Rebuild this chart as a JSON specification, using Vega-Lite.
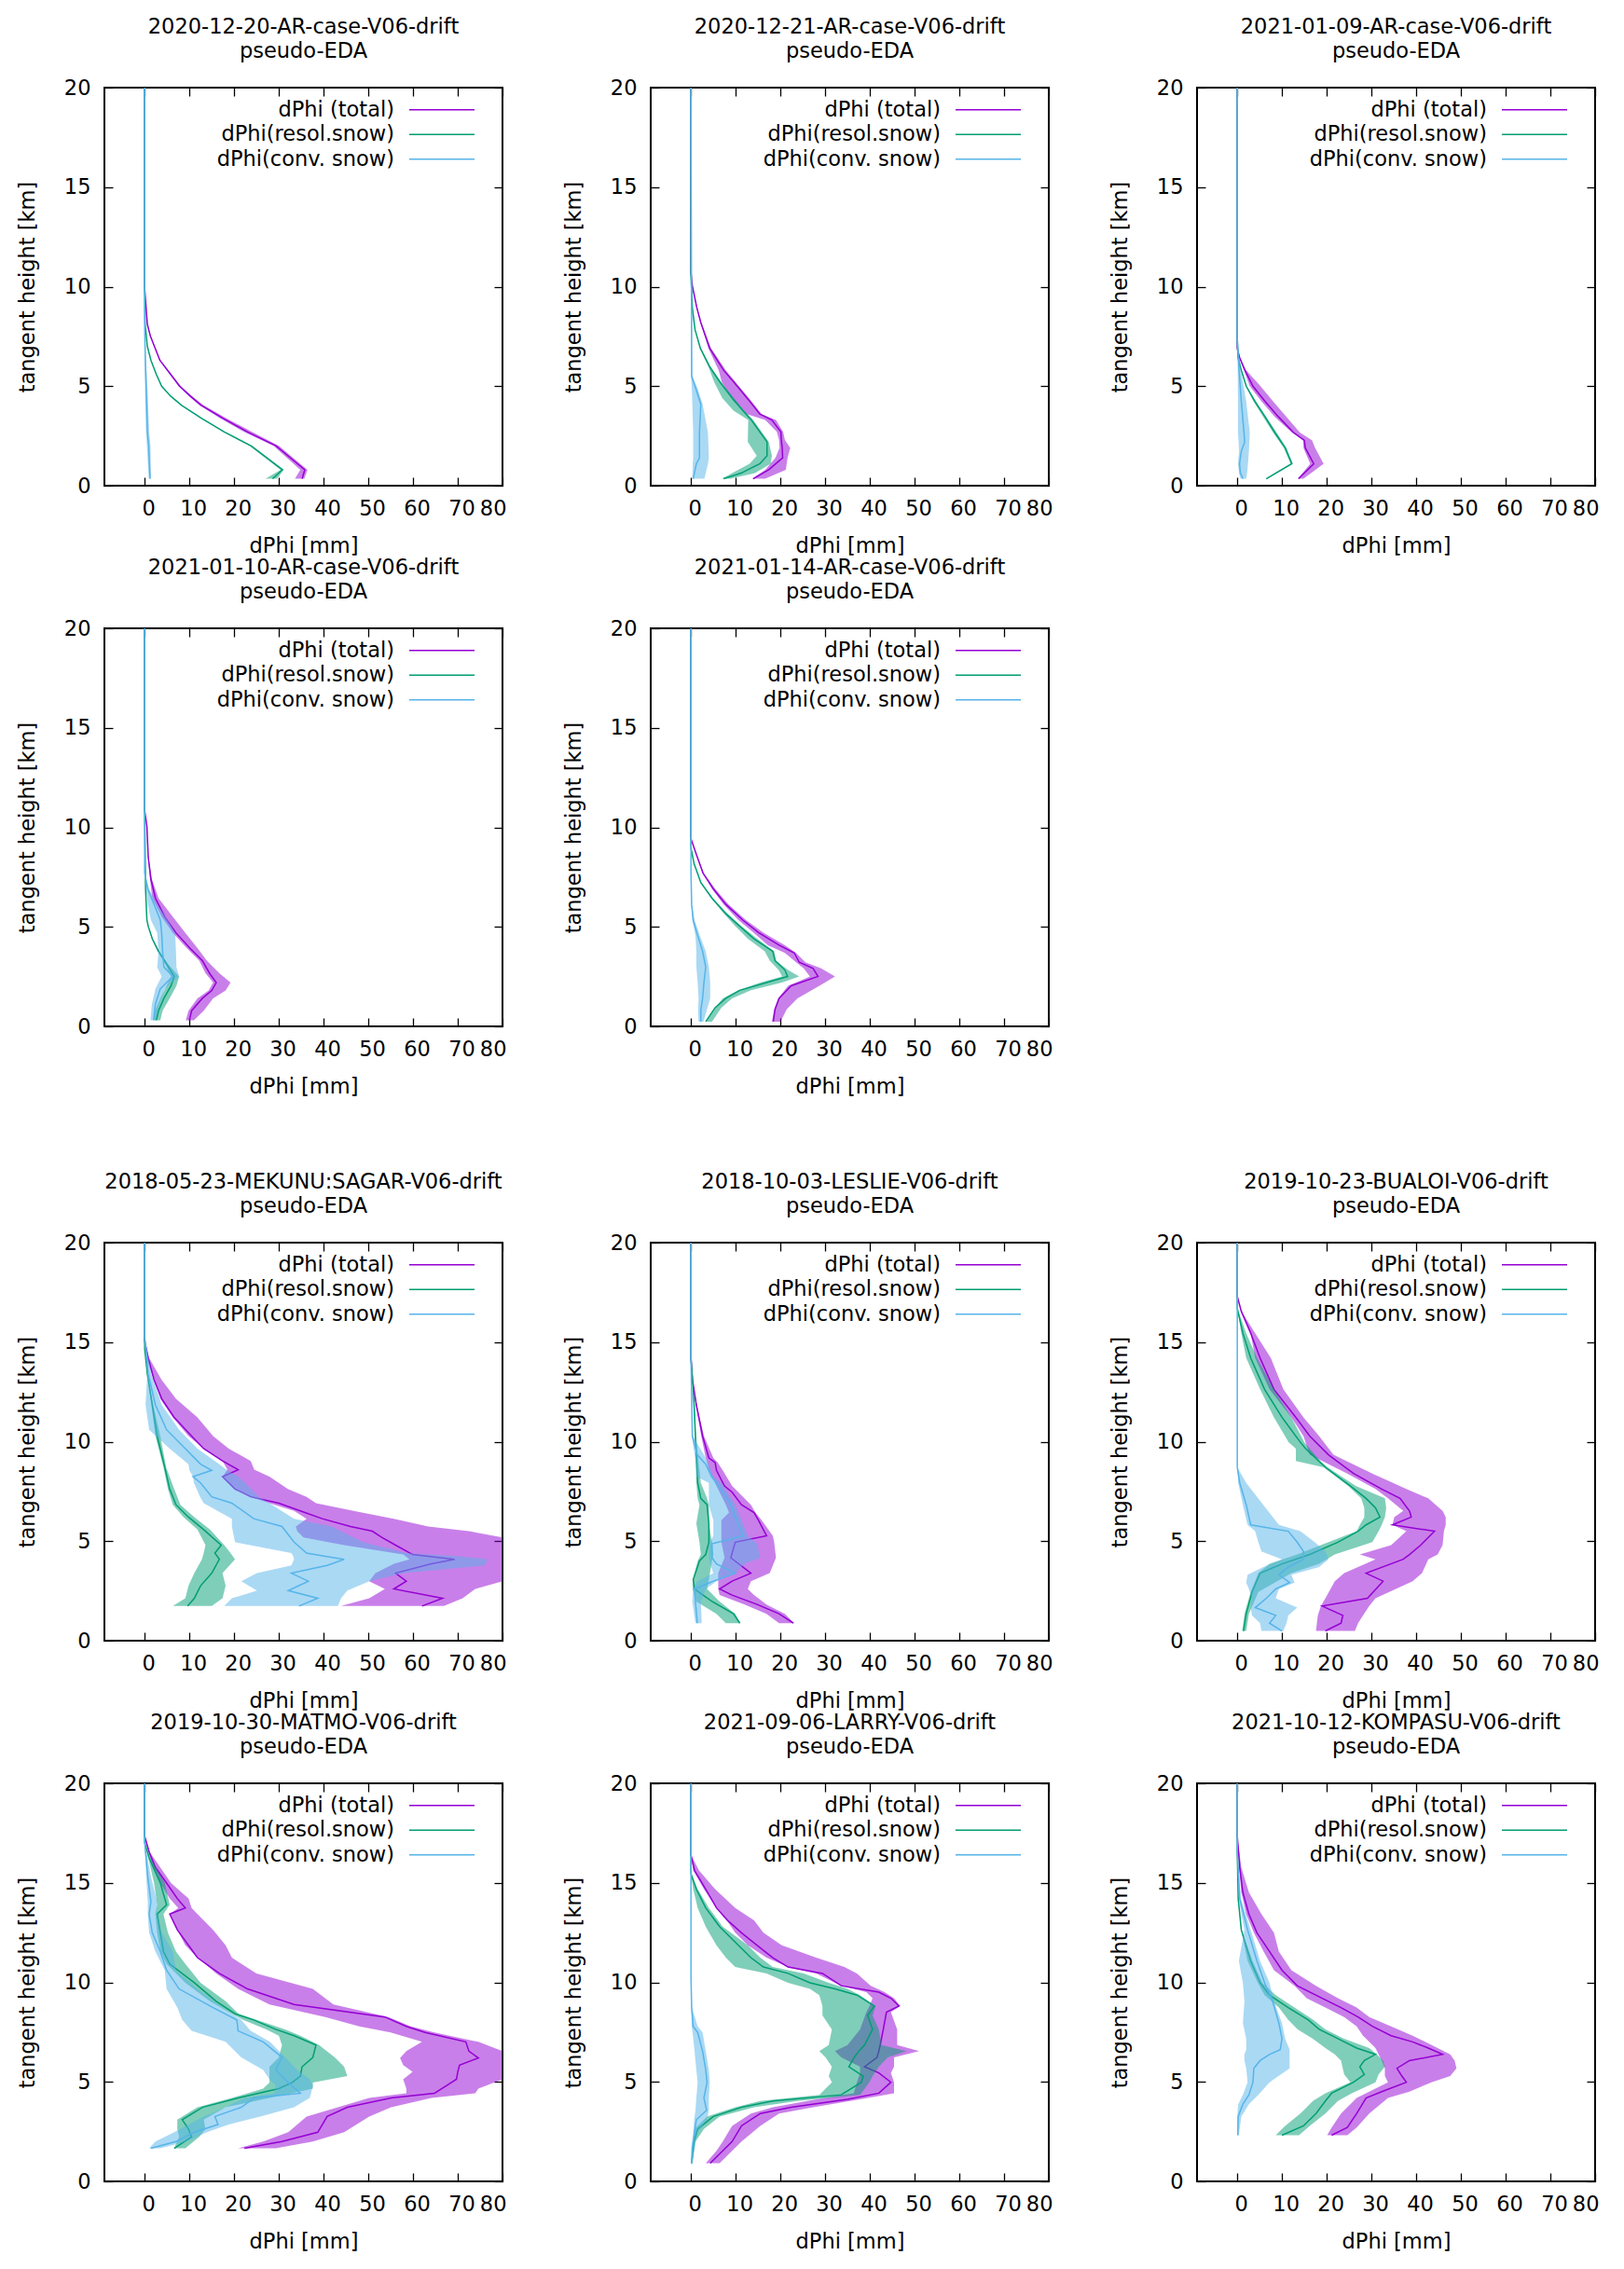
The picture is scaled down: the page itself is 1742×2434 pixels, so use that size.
{
  "$schema": "https://vega.github.io/schema/vega-lite/v6.json",
  "background": "white",
  "padding": {"left": 17, "top": 16, "right": 5, "bottom": 5},
  "datasets": {
    "total": [
      {"p":1,"h":0.35,"m":35.2,"lo":33.6,"hi":35.7},{"p":1,"h":0.8,"m":35.8,"lo":34.8,"hi":36.4},{"p":1,"h":2.0,"m":29.4,"lo":28.8,"hi":30.0},{"p":1,"h":2.7,"m":23,"lo":22.2,"hi":24},{"p":1,"h":3.4,"m":17.4,"lo":16.8,"hi":18.2},{"p":1,"h":4.05,"m":12.6,"lo":12.2,"hi":13.1},{"p":1,"h":4.5,"m":10.2,"lo":9.9,"hi":10.6},{"p":1,"h":5.0,"m":7.8,"lo":7.6,"hi":8.1},{"p":1,"h":5.6,"m":5.8,"lo":5.6,"hi":6.0},{"p":1,"h":6.3,"m":3.4,"lo":3.3,"hi":3.5},{"p":1,"h":7.5,"m":1.3,"lo":1.25,"hi":1.35},{"p":1,"h":8.1,"m":0.6,"lo":0.55,"hi":0.65},{"p":1,"h":9.9,"m":0,"lo":0,"hi":0},{"p":1,"h":20,"m":0,"lo":0,"hi":0},
      {"p":2,"h":0.35,"m":13.9,"lo":13.7,"hi":16.6},{"p":2,"h":0.8,"m":17.4,"lo":16.6,"hi":21.2},{"p":2,"h":1.4,"m":20.5,"lo":18.9,"hi":21.6},{"p":2,"h":1.9,"m":20.4,"lo":19.8,"hi":22.2},{"p":2,"h":2.3,"m":20.2,"lo":19.7,"hi":21},{"p":2,"h":2.7,"m":20.1,"lo":19.2,"hi":20.6},{"p":2,"h":3.3,"m":18.1,"lo":16.6,"hi":19},{"p":2,"h":3.6,"m":15.4,"lo":12.5,"hi":15.8},{"p":2,"h":4.25,"m":13.1,"lo":9.5,"hi":13.5},{"p":2,"h":5.2,"m":9.6,"lo":6.9,"hi":10.0},{"p":2,"h":5.8,"m":7.3,"lo":6.2,"hi":7.8},{"p":2,"h":6.9,"m":4.2,"lo":3.9,"hi":4.5},{"p":2,"h":8.2,"m":2.2,"lo":2.1,"hi":2.3},{"p":2,"h":8.95,"m":1.3,"lo":1.25,"hi":1.35},{"p":2,"h":10.05,"m":0.3,"lo":0.3,"hi":0.3},{"p":2,"h":10.7,"m":0,"lo":0,"hi":0},{"p":2,"h":20,"m":0,"lo":0,"hi":0},
      {"p":3,"h":0.35,"m":13.7,"lo":13.5,"hi":14.8},{"p":3,"h":1.1,"m":17.1,"lo":16.3,"hi":19.3},{"p":3,"h":1.9,"m":15.2,"lo":14.8,"hi":17.4},{"p":3,"h":2.28,"m":15.0,"lo":14.7,"hi":16.7},{"p":3,"h":2.67,"m":12.6,"lo":12.2,"hi":14.0},{"p":3,"h":3.46,"m":9.2,"lo":8.4,"hi":11},{"p":3,"h":4.24,"m":6.2,"lo":5.4,"hi":8.0},{"p":3,"h":5.0,"m":3.5,"lo":2.8,"hi":5.2},{"p":3,"h":5.8,"m":1.7,"lo":1.5,"hi":2.0},{"p":3,"h":6.45,"m":0.5,"lo":0.45,"hi":0.55},{"p":3,"h":6.9,"m":0,"lo":0,"hi":0},{"p":3,"h":20,"m":0,"lo":0,"hi":0},
      {"p":4,"h":0.31,"m":10.0,"lo":9.2,"hi":11},{"p":4,"h":0.79,"m":10.5,"lo":9.8,"hi":13.2},{"p":4,"h":1.41,"m":12.9,"lo":11.8,"hi":15.3},{"p":4,"h":1.8,"m":15.0,"lo":14.3,"hi":18.1},{"p":4,"h":2.2,"m":16.0,"lo":15.3,"hi":19.2},{"p":4,"h":2.67,"m":14.5,"lo":13.6,"hi":16.7},{"p":4,"h":3.3,"m":12.9,"lo":12.2,"hi":13.9},{"p":4,"h":3.93,"m":10.1,"lo":9.4,"hi":11.8},{"p":4,"h":4.7,"m":7.0,"lo":6.3,"hi":9.1},{"p":4,"h":5.5,"m":4.5,"lo":3.8,"hi":6.3},{"p":4,"h":6.44,"m":2.4,"lo":1.7,"hi":3.1},{"p":4,"h":7.4,"m":1.4,"lo":1.2,"hi":1.6},{"p":4,"h":8.5,"m":0.8,"lo":0.75,"hi":0.85},{"p":4,"h":10.05,"m":0.5,"lo":0.5,"hi":0.5},{"p":4,"h":10.84,"m":0,"lo":0,"hi":0},{"p":4,"h":20,"m":0,"lo":0,"hi":0},
      {"p":5,"h":0.24,"m":18.4,"lo":18.1,"hi":20},{"p":5,"h":0.86,"m":18.8,"lo":18.6,"hi":21.4},{"p":5,"h":1.41,"m":19.7,"lo":19.5,"hi":23.8},{"p":5,"h":2.04,"m":22.4,"lo":21.7,"hi":28.7},{"p":5,"h":2.51,"m":28.4,"lo":26.6,"hi":32.2},{"p":5,"h":2.91,"m":27.3,"lo":25.2,"hi":29.1},{"p":5,"h":3.22,"m":24.2,"lo":23.5,"hi":25.6},{"p":5,"h":3.69,"m":23.1,"lo":21,"hi":23.5},{"p":5,"h":4.08,"m":19.7,"lo":17.2,"hi":21},{"p":5,"h":4.71,"m":15.1,"lo":14,"hi":16.2},{"p":5,"h":5.34,"m":11.6,"lo":10.6,"hi":12.3},{"p":5,"h":6.13,"m":7.8,"lo":7.3,"hi":8.4},{"p":5,"h":6.91,"m":5.0,"lo":4.7,"hi":5.4},{"p":5,"h":7.7,"m":2.7,"lo":2.6,"hi":2.8},{"p":5,"h":8.64,"m":1.2,"lo":1.2,"hi":1.2},{"p":5,"h":9.43,"m":0,"lo":0,"hi":0},{"p":5,"h":20,"m":0,"lo":0,"hi":0},
      {"p":6,"h":1.74,"m":62,"lo":43.9,"hi":66.9},{"p":6,"h":2.13,"m":66.6,"lo":50.2,"hi":71.1},{"p":6,"h":2.6,"m":55.7,"lo":53.7,"hi":73.9},{"p":6,"h":2.99,"m":58.5,"lo":50.2,"hi":80},{"p":6,"h":3.39,"m":56.1,"lo":51.6,"hi":80},{"p":6,"h":3.86,"m":64.1,"lo":55.7,"hi":80},{"p":6,"h":4.09,"m":69.3,"lo":59.2,"hi":80},{"p":6,"h":4.33,"m":59.9,"lo":57.8,"hi":80},{"p":6,"h":4.8,"m":56.1,"lo":44.6,"hi":80},{"p":6,"h":5.19,"m":53,"lo":35.5,"hi":80},{"p":6,"h":5.5,"m":50.9,"lo":34.1,"hi":72.5},{"p":6,"h":5.74,"m":46,"lo":33.8,"hi":63.4},{"p":6,"h":6.13,"m":39.7,"lo":36.2,"hi":55.7},{"p":6,"h":6.52,"m":34.8,"lo":33.4,"hi":46.7},{"p":6,"h":6.91,"m":30,"lo":27.9,"hi":38.3},{"p":6,"h":7.23,"m":23.7,"lo":23.7,"hi":36.2},{"p":6,"h":7.62,"m":20.2,"lo":20.2,"hi":32},{"p":6,"h":8.24,"m":17.4,"lo":17.4,"hi":27.9},{"p":6,"h":8.59,"m":20.9,"lo":18.5,"hi":24.5},{"p":6,"h":9.03,"m":17.4,"lo":17.4,"hi":23.7},{"p":6,"h":9.65,"m":13.2,"lo":13.2,"hi":18.8},{"p":6,"h":10.28,"m":10.5,"lo":9.8,"hi":15.3},{"p":6,"h":11.22,"m":6.6,"lo":6.3,"hi":11.8},{"p":6,"h":12.16,"m":3.8,"lo":3.5,"hi":7.0},{"p":6,"h":13.1,"m":2.1,"lo":2.1,"hi":3.8},{"p":6,"h":14.2,"m":0.8,"lo":0.35,"hi":1.0},{"p":6,"h":15.06,"m":0,"lo":0,"hi":0},{"p":6,"h":20,"m":0,"lo":0,"hi":0},
      {"p":7,"h":0.88,"m":22.9,"lo":19.7,"hi":23.1},{"p":7,"h":1.35,"m":19.7,"lo":16.9,"hi":21},{"p":7,"h":1.82,"m":14.8,"lo":12,"hi":16.9},{"p":7,"h":2.29,"m":9.2,"lo":6.4,"hi":14.1},{"p":7,"h":2.6,"m":6.4,"lo":6.1,"hi":12.7},{"p":7,"h":2.99,"m":9.2,"lo":6.1,"hi":13.4},{"p":7,"h":3.39,"m":13.4,"lo":6.1,"hi":17.6},{"p":7,"h":4.17,"m":8.9,"lo":7.5,"hi":19.0},{"p":7,"h":4.95,"m":9.9,"lo":6.8,"hi":18.6},{"p":7,"h":5.27,"m":16.9,"lo":6.8,"hi":18.3},{"p":7,"h":6.05,"m":15.1,"lo":6.8,"hi":15.8},{"p":7,"h":6.44,"m":14.1,"lo":8.5,"hi":14.4},{"p":7,"h":6.83,"m":11.3,"lo":7.8,"hi":13.4},{"p":7,"h":7.46,"m":9.2,"lo":6.4,"hi":10.6},{"p":7,"h":7.77,"m":7.5,"lo":5.7,"hi":9.2},{"p":7,"h":8.56,"m":5.7,"lo":4.0,"hi":7.1},{"p":7,"h":8.95,"m":5.4,"lo":3.6,"hi":6},{"p":7,"h":9.18,"m":4.0,"lo":3.3,"hi":5.0},{"p":7,"h":10.28,"m":2.6,"lo":2.3,"hi":2.9},{"p":7,"h":11.85,"m":1.2,"lo":1.1,"hi":1.3},{"p":7,"h":13.1,"m":0.35,"lo":0.3,"hi":0.4},{"p":7,"h":14.2,"m":0,"lo":0,"hi":0},{"p":7,"h":20,"m":0,"lo":0,"hi":0},
      {"p":8,"h":0.49,"m":19.7,"lo":17.6,"hi":26.3},{"p":8,"h":0.88,"m":23.2,"lo":17.8,"hi":27},{"p":8,"h":1.27,"m":23.6,"lo":18,"hi":28.1},{"p":8,"h":1.74,"m":19.0,"lo":18.7,"hi":29.5},{"p":8,"h":2.13,"m":29.1,"lo":19.7,"hi":30.9},{"p":8,"h":2.99,"m":32.6,"lo":21.8,"hi":39.2},{"p":8,"h":3.39,"m":28.8,"lo":23.9,"hi":41.3},{"p":8,"h":4.09,"m":37.1,"lo":30.9,"hi":42.7},{"p":8,"h":4.33,"m":38.5,"lo":27.4,"hi":44.8},{"p":8,"h":4.8,"m":41.0,"lo":34.4,"hi":45.9},{"p":8,"h":5.5,"m":44.1,"lo":37.8,"hi":46.2},{"p":8,"h":5.82,"m":34.7,"lo":34.7,"hi":46.6},{"p":8,"h":6.21,"m":38.9,"lo":35.1,"hi":46.6},{"p":8,"h":6.52,"m":38.5,"lo":37.1,"hi":45.9},{"p":8,"h":7.15,"m":36.4,"lo":33.7,"hi":42.7},{"p":8,"h":7.62,"m":32.3,"lo":30.9,"hi":37.8},{"p":8,"h":8.4,"m":26,"lo":24.6,"hi":30.2},{"p":8,"h":9.34,"m":20.4,"lo":16.2,"hi":21.5},{"p":8,"h":10.28,"m":16.2,"lo":14.8,"hi":18.3},{"p":8,"h":11.22,"m":13.1,"lo":12.1,"hi":14.8},{"p":8,"h":12.63,"m":8.2,"lo":7.2,"hi":10.3},{"p":8,"h":14.2,"m":5.1,"lo":4.0,"hi":7.5},{"p":8,"h":15.45,"m":3.0,"lo":3.0,"hi":4.0},{"p":8,"h":16.55,"m":0.9,"lo":0.85,"hi":0.95},{"p":8,"h":17.3,"m":0,"lo":0,"hi":0},{"p":8,"h":20,"m":0,"lo":0,"hi":0},
      {"p":9,"h":1.66,"m":22.3,"lo":20.9,"hi":29.3},{"p":9,"h":2.0,"m":30.7,"lo":26.5,"hi":37.6},{"p":9,"h":2.47,"m":38.7,"lo":32.1,"hi":44.6},{"p":9,"h":3.26,"m":40.8,"lo":36.2,"hi":50.2},{"p":9,"h":3.72,"m":45.3,"lo":43.2,"hi":55.1},{"p":9,"h":4.19,"m":55.1,"lo":50.2,"hi":64.1},{"p":9,"h":4.43,"m":64.8,"lo":58.5,"hi":73.9},{"p":9,"h":4.66,"m":66.4,"lo":58.5,"hi":74.6},{"p":9,"h":5.13,"m":69.7,"lo":57.8,"hi":80},{"p":9,"h":5.5,"m":70,"lo":59.9,"hi":80},{"p":9,"h":5.84,"m":70.4,"lo":57.8,"hi":80},{"p":9,"h":6.2,"m":74.6,"lo":57.1,"hi":80},{"p":9,"h":6.54,"m":72.5,"lo":58.5,"hi":80},{"p":9,"h":7.01,"m":71.8,"lo":62,"hi":74.6},{"p":9,"h":7.48,"m":62.7,"lo":55,"hi":64.8},{"p":9,"h":7.79,"m":58.5,"lo":48,"hi":59.5},{"p":9,"h":8.26,"m":53.7,"lo":40.4,"hi":54.5},{"p":9,"h":8.89,"m":33.4,"lo":27.9,"hi":42.2},{"p":9,"h":9.67,"m":23,"lo":20.9,"hi":37.6},{"p":9,"h":10.45,"m":16.7,"lo":16.0,"hi":25},{"p":9,"h":11.24,"m":11.8,"lo":11.8,"hi":19.5},{"p":9,"h":11.86,"m":9.8,"lo":9.1,"hi":18.1},{"p":9,"h":12.64,"m":7.3,"lo":7.3,"hi":15.3},{"p":9,"h":13.43,"m":5.6,"lo":5.6,"hi":11.8},{"p":9,"h":13.74,"m":9.1,"lo":7.5,"hi":10.5},{"p":9,"h":14.21,"m":7.3,"lo":5.6,"hi":9.8},{"p":9,"h":14.99,"m":4.9,"lo":3.5,"hi":5.9},{"p":9,"h":15.77,"m":2.4,"lo":1.8,"hi":3.5},{"p":9,"h":16.56,"m":1.0,"lo":0.9,"hi":1.1},{"p":9,"h":17.34,"m":0,"lo":0,"hi":0},{"p":9,"h":20,"m":0,"lo":0,"hi":0},
      {"p":10,"h":0.91,"m":4.3,"lo":3.3,"hi":6.4},{"p":10,"h":1.53,"m":7.1,"lo":5.7,"hi":9.2},{"p":10,"h":2.0,"m":9.2,"lo":7.1,"hi":11.3},{"p":10,"h":2.79,"m":11.3,"lo":9.2,"hi":15.5},{"p":10,"h":3.41,"m":15.5,"lo":13.4,"hi":19.7},{"p":10,"h":3.72,"m":22.4,"lo":18.3,"hi":27.3},{"p":10,"h":4.12,"m":35,"lo":28,"hi":37.8},{"p":10,"h":4.43,"m":42,"lo":36.4,"hi":45.4},{"p":10,"h":4.98,"m":44.7,"lo":37.1,"hi":45.4},{"p":10,"h":5.45,"m":42,"lo":37.8,"hi":44.7},{"p":10,"h":5.76,"m":38.8,"lo":37.8,"hi":45.4},{"p":10,"h":6.23,"m":41.6,"lo":33.6,"hi":45.4},{"p":10,"h":6.54,"m":42,"lo":32.2,"hi":51},{"p":10,"h":6.85,"m":42.3,"lo":35,"hi":46.1},{"p":10,"h":7.64,"m":43,"lo":37.8,"hi":46.1},{"p":10,"h":8.5,"m":43.7,"lo":39.2,"hi":44.7},{"p":10,"h":8.81,"m":46.5,"lo":39.9,"hi":46.8},{"p":10,"h":9.2,"m":44.7,"lo":40.6,"hi":45.4},{"p":10,"h":9.51,"m":42,"lo":39.2,"hi":43.3},{"p":10,"h":9.83,"m":33.6,"lo":33.6,"hi":40.2},{"p":10,"h":10.45,"m":29.4,"lo":28,"hi":37.1},{"p":10,"h":10.77,"m":21.7,"lo":21.7,"hi":34.3},{"p":10,"h":11.24,"m":18.3,"lo":16.9,"hi":28},{"p":10,"h":11.86,"m":14.8,"lo":12.7,"hi":20.3},{"p":10,"h":12.49,"m":11.3,"lo":9.9,"hi":16.2},{"p":10,"h":13.11,"m":8.2,"lo":8,"hi":14.1},{"p":10,"h":13.74,"m":5.7,"lo":5.7,"hi":9.9},{"p":10,"h":14.68,"m":3.3,"lo":2.9,"hi":5.4},{"p":10,"h":15.62,"m":0.8,"lo":0.5,"hi":1.8},{"p":10,"h":16.4,"m":0,"lo":0,"hi":0},{"p":10,"h":20,"m":0,"lo":0,"hi":0},
      {"p":11,"h":2.32,"m":21.1,"lo":20.1,"hi":24.6},{"p":11,"h":2.71,"m":24.6,"lo":21.1,"hi":26.7},{"p":11,"h":3.41,"m":26.7,"lo":23.2,"hi":29.5},{"p":11,"h":4.19,"m":28.8,"lo":26.7,"hi":33.7},{"p":11,"h":4.51,"m":32.3,"lo":29.5,"hi":38.5},{"p":11,"h":4.98,"m":37.8,"lo":33.7,"hi":43.4},{"p":11,"h":5.29,"m":36.8,"lo":33,"hi":47.6},{"p":11,"h":5.68,"m":35.7,"lo":33,"hi":49},{"p":11,"h":6.07,"m":38.5,"lo":32.3,"hi":48.6},{"p":11,"h":6.38,"m":45.9,"lo":31.6,"hi":47.6},{"p":11,"h":6.7,"m":42.7,"lo":30.9,"hi":44.8},{"p":11,"h":7.01,"m":39.2,"lo":29.5,"hi":42},{"p":11,"h":7.32,"m":34.4,"lo":28.1,"hi":39.2},{"p":11,"h":7.79,"m":30.2,"lo":26.7,"hi":34.4},{"p":11,"h":8.26,"m":27,"lo":23.9,"hi":29.5},{"p":11,"h":8.73,"m":23.2,"lo":19.7,"hi":26.7},{"p":11,"h":9.2,"m":19.0,"lo":15.5,"hi":22.5},{"p":11,"h":9.83,"m":13.4,"lo":12.8,"hi":17.6},{"p":11,"h":10.61,"m":10,"lo":8.2,"hi":12.1},{"p":11,"h":11.55,"m":7.2,"lo":5.9,"hi":9.3},{"p":11,"h":12.49,"m":4.4,"lo":3.7,"hi":8.2},{"p":11,"h":13.43,"m":2.6,"lo":2.0,"hi":5.4},{"p":11,"h":14.52,"m":1.25,"lo":0.9,"hi":2.6},{"p":11,"h":15.77,"m":0.55,"lo":0.4,"hi":0.9},{"p":11,"h":17.34,"m":0,"lo":0,"hi":0},{"p":11,"h":20,"m":0,"lo":0,"hi":0}
    ],
    "resol": [
      {"p":1,"h":0.35,"m":28.6,"lo":27,"hi":29.6},{"p":1,"h":0.8,"m":30.8,"lo":30.4,"hi":31.1},{"p":1,"h":2.0,"m":23.8,"lo":23.5,"hi":24.1},{"p":1,"h":2.7,"m":17.8,"lo":17.6,"hi":18},{"p":1,"h":3.4,"m":12.6,"lo":12.4,"hi":12.8},{"p":1,"h":4.05,"m":8.2,"lo":8.1,"hi":8.3},{"p":1,"h":4.5,"m":5.8,"lo":5.7,"hi":5.9},{"p":1,"h":5.0,"m":3.8,"lo":3.75,"hi":3.85},{"p":1,"h":5.6,"m":2.6,"lo":2.55,"hi":2.65},{"p":1,"h":6.3,"m":1.4,"lo":1.4,"hi":1.4},{"p":1,"h":7.0,"m":0.6,"lo":0.6,"hi":0.6},{"p":1,"h":8.1,"m":0.1,"lo":0.1,"hi":0.1},{"p":1,"h":10,"m":0,"lo":0,"hi":0},{"p":1,"h":20,"m":0,"lo":0,"hi":0},
      {"p":2,"h":0.35,"m":7.3,"lo":6.9,"hi":8.8},{"p":2,"h":0.63,"m":11.2,"lo":9.2,"hi":14.3},{"p":2,"h":1.1,"m":15.4,"lo":13.1,"hi":17.8},{"p":2,"h":1.5,"m":17,"lo":14.7,"hi":18.1},{"p":2,"h":2.2,"m":17,"lo":12.7,"hi":17.4},{"p":2,"h":3.3,"m":13.5,"lo":12.8,"hi":13.9},{"p":2,"h":3.77,"m":11.6,"lo":9.5,"hi":11.9},{"p":2,"h":4.4,"m":9.2,"lo":7.0,"hi":9.6},{"p":2,"h":5.2,"m":6.5,"lo":5.2,"hi":6.8},{"p":2,"h":5.97,"m":4.2,"lo":3.9,"hi":4.4},{"p":2,"h":6.9,"m":2.1,"lo":2.0,"hi":2.2},{"p":2,"h":7.85,"m":0.9,"lo":0.9,"hi":0.9},{"p":2,"h":8.95,"m":0.3,"lo":0.3,"hi":0.3},{"p":2,"h":10.5,"m":0,"lo":0,"hi":0},{"p":2,"h":20,"m":0,"lo":0,"hi":0},
      {"p":3,"h":0.35,"m":6.5,"lo":6.3,"hi":6.7},{"p":3,"h":1.1,"m":12.2,"lo":11.9,"hi":12.4},{"p":3,"h":1.9,"m":10.7,"lo":10.4,"hi":11.0},{"p":3,"h":2.67,"m":8.4,"lo":8.0,"hi":8.8},{"p":3,"h":3.46,"m":6.2,"lo":5.8,"hi":6.5},{"p":3,"h":4.24,"m":3.9,"lo":3.6,"hi":4.2},{"p":3,"h":5.0,"m":2.0,"lo":1.9,"hi":2.1},{"p":3,"h":5.8,"m":0.9,"lo":0.85,"hi":0.95},{"p":3,"h":6.45,"m":0.15,"lo":0.15,"hi":0.15},{"p":3,"h":7.4,"m":0,"lo":0,"hi":0},{"p":3,"h":20,"m":0,"lo":0,"hi":0},
      {"p":4,"h":0.31,"m":2.6,"lo":2.1,"hi":3.5},{"p":4,"h":0.79,"m":3.1,"lo":2.3,"hi":4.0},{"p":4,"h":1.41,"m":4.3,"lo":3.5,"hi":5.6},{"p":4,"h":2.04,"m":5.9,"lo":4.9,"hi":7.1},{"p":4,"h":2.51,"m":6.6,"lo":5.9,"hi":7.7},{"p":4,"h":3.14,"m":4.9,"lo":4.6,"hi":5.2},{"p":4,"h":3.77,"m":3.1,"lo":2.9,"hi":3.3},{"p":4,"h":4.4,"m":1.7,"lo":1.6,"hi":1.8},{"p":4,"h":5.03,"m":0.8,"lo":0.75,"hi":0.85},{"p":4,"h":5.34,"m":0.5,"lo":0.5,"hi":0.5},{"p":4,"h":6.9,"m":0.2,"lo":0.2,"hi":0.2},{"p":4,"h":10.84,"m":0,"lo":0,"hi":0},{"p":4,"h":20,"m":0,"lo":0,"hi":0},
      {"p":5,"h":0.24,"m":3.3,"lo":3.3,"hi":4.7},{"p":5,"h":0.94,"m":5.4,"lo":5.4,"hi":6.8},{"p":5,"h":1.41,"m":7.8,"lo":7.1,"hi":9.2},{"p":5,"h":1.81,"m":10.9,"lo":10.6,"hi":13.4},{"p":5,"h":2.2,"m":16.9,"lo":15.5,"hi":20.3},{"p":5,"h":2.51,"m":21.6,"lo":20.4,"hi":24.2},{"p":5,"h":2.83,"m":21.0,"lo":19.6,"hi":21.7},{"p":5,"h":3.3,"m":18.8,"lo":17.6,"hi":19},{"p":5,"h":3.77,"m":18.3,"lo":16.5,"hi":18.6},{"p":5,"h":4.4,"m":14.1,"lo":12.7,"hi":14.8},{"p":5,"h":5.03,"m":10.9,"lo":9.9,"hi":11.3},{"p":5,"h":5.66,"m":7.8,"lo":7.4,"hi":8.2},{"p":5,"h":6.44,"m":4.7,"lo":4.5,"hi":4.9},{"p":5,"h":7.23,"m":2.2,"lo":2.1,"hi":2.3},{"p":5,"h":8.17,"m":0.7,"lo":0.7,"hi":0.7},{"p":5,"h":8.96,"m":0,"lo":0,"hi":0},{"p":5,"h":20,"m":0,"lo":0,"hi":0},
      {"p":6,"h":1.74,"m":9.6,"lo":6.3,"hi":15.0},{"p":6,"h":2.13,"m":11.1,"lo":9.1,"hi":17.4},{"p":6,"h":2.76,"m":12.5,"lo":9.8,"hi":18.1},{"p":6,"h":3.39,"m":15.0,"lo":11.1,"hi":17.4},{"p":6,"h":4.09,"m":16.7,"lo":12.8,"hi":20.2},{"p":6,"h":4.4,"m":15.7,"lo":13.2,"hi":19.2},{"p":6,"h":4.8,"m":17.1,"lo":13.6,"hi":17.8},{"p":6,"h":5.58,"m":13.2,"lo":11.8,"hi":14.6},{"p":6,"h":6.21,"m":9.8,"lo":8.7,"hi":11.1},{"p":6,"h":6.83,"m":7.0,"lo":6.3,"hi":8.0},{"p":6,"h":7.62,"m":5.6,"lo":5.2,"hi":6.6},{"p":6,"h":8.71,"m":4.5,"lo":4.2,"hi":4.8},{"p":6,"h":10.28,"m":2.8,"lo":2.4,"hi":3.5},{"p":6,"h":11.85,"m":1.7,"lo":1.5,"hi":1.9},{"p":6,"h":13.4,"m":0.6,"lo":0.55,"hi":0.65},{"p":6,"h":14.67,"m":0,"lo":0,"hi":0},{"p":6,"h":20,"m":0,"lo":0,"hi":0},
      {"p":7,"h":0.88,"m":10.9,"lo":7.8,"hi":11.1},{"p":7,"h":1.35,"m":9.5,"lo":5.7,"hi":9.9},{"p":7,"h":1.97,"m":4.7,"lo":1.2,"hi":6.4},{"p":7,"h":2.6,"m":0.8,"lo":0.35,"hi":3.6},{"p":7,"h":3.07,"m":0.5,"lo":0.4,"hi":4.0},{"p":7,"h":4.01,"m":1.9,"lo":1.5,"hi":4.7},{"p":7,"h":4.33,"m":3.3,"lo":2.2,"hi":5.0},{"p":7,"h":4.95,"m":4.0,"lo":1.9,"hi":4.7},{"p":7,"h":5.89,"m":4.0,"lo":1.2,"hi":4.0},{"p":7,"h":6.83,"m":3.6,"lo":1.9,"hi":4.0},{"p":7,"h":7.15,"m":2.2,"lo":1.5,"hi":3.6},{"p":7,"h":7.93,"m":1.5,"lo":1.2,"hi":2.2},{"p":7,"h":10.28,"m":1.0,"lo":0.9,"hi":1.1},{"p":7,"h":11.85,"m":0.7,"lo":0.65,"hi":0.75},{"p":7,"h":14.2,"m":0,"lo":0,"hi":0},{"p":7,"h":20,"m":0,"lo":0,"hi":0},
      {"p":8,"h":0.49,"m":1.4,"lo":1.1,"hi":2.0},{"p":8,"h":1.35,"m":2.0,"lo":1.6,"hi":2.6},{"p":8,"h":2.45,"m":3.3,"lo":3.0,"hi":4.7},{"p":8,"h":3.39,"m":5.1,"lo":4.7,"hi":12.1},{"p":8,"h":3.86,"m":10.0,"lo":7.2,"hi":18.3},{"p":8,"h":4.33,"m":16.2,"lo":13.4,"hi":21.8},{"p":8,"h":4.95,"m":22.5,"lo":20.4,"hi":30.2},{"p":8,"h":5.5,"m":27.0,"lo":26.7,"hi":31.6},{"p":8,"h":5.82,"m":28.8,"lo":27.4,"hi":32.3},{"p":8,"h":6.21,"m":31.9,"lo":28.4,"hi":33},{"p":8,"h":6.68,"m":30.9,"lo":28.4,"hi":33.3},{"p":8,"h":7.15,"m":28.8,"lo":27.7,"hi":33},{"p":8,"h":7.77,"m":25.3,"lo":24.8,"hi":26.5},{"p":8,"h":8.71,"m":19.7,"lo":19.3,"hi":20.2},{"p":8,"h":9.03,"m":18.2,"lo":13.1,"hi":18.6},{"p":8,"h":9.65,"m":15.3,"lo":13.1,"hi":16.2},{"p":8,"h":9.97,"m":14.1,"lo":11.5,"hi":15.0},{"p":8,"h":11.22,"m":10.0,"lo":8.2,"hi":12.1},{"p":8,"h":12.63,"m":6.1,"lo":5.1,"hi":8.2},{"p":8,"h":14.2,"m":3.0,"lo":2.0,"hi":4.4},{"p":8,"h":15.45,"m":1.25,"lo":0.9,"hi":2.0},{"p":8,"h":16.7,"m":0,"lo":0,"hi":0},{"p":8,"h":20,"m":0,"lo":0,"hi":0},
      {"p":9,"h":1.66,"m":6.6,"lo":6.6,"hi":9.1},{"p":9,"h":2.24,"m":10.5,"lo":7.7,"hi":12.2},{"p":9,"h":2.63,"m":9.8,"lo":7.3,"hi":13.6},{"p":9,"h":3.1,"m":8.4,"lo":7.3,"hi":13.2},{"p":9,"h":3.72,"m":12.9,"lo":11.8,"hi":18.1},{"p":9,"h":4.19,"m":20.9,"lo":19.5,"hi":27.9},{"p":9,"h":4.66,"m":30,"lo":26.5,"hi":37.6},{"p":9,"h":4.97,"m":33,"lo":27.9,"hi":37.6},{"p":9,"h":5.29,"m":34.8,"lo":27.9,"hi":45.3},{"p":9,"h":5.76,"m":35.2,"lo":27.9,"hi":44.6},{"p":9,"h":6.23,"m":37.6,"lo":30,"hi":42.5},{"p":9,"h":6.85,"m":38.3,"lo":30.7,"hi":39},{"p":9,"h":7.32,"m":33.4,"lo":30,"hi":34.8},{"p":9,"h":7.64,"m":29.3,"lo":27.2,"hi":31.4},{"p":9,"h":8.11,"m":24.4,"lo":22,"hi":25},{"p":9,"h":8.42,"m":20.2,"lo":19.5,"hi":21},{"p":9,"h":9.05,"m":16,"lo":14.6,"hi":18.1},{"p":9,"h":9.98,"m":11.1,"lo":9.1,"hi":12.5},{"p":9,"h":10.92,"m":5.6,"lo":4.9,"hi":9.1},{"p":9,"h":11.55,"m":4.2,"lo":3.5,"hi":7.0},{"p":9,"h":12.49,"m":3.5,"lo":2.8,"hi":5.2},{"p":9,"h":13.43,"m":2.8,"lo":2.4,"hi":4.2},{"p":9,"h":13.9,"m":4.9,"lo":2.8,"hi":5.6},{"p":9,"h":14.99,"m":3.5,"lo":2.1,"hi":4.5},{"p":9,"h":16.25,"m":1.0,"lo":0.8,"hi":1.3},{"p":9,"h":17.03,"m":0,"lo":0,"hi":0},{"p":9,"h":20,"m":0,"lo":0,"hi":0},
      {"p":10,"h":0.91,"m":0.15,"lo":0,"hi":0.3},{"p":10,"h":2.0,"m":0.7,"lo":0.4,"hi":1.0},{"p":10,"h":2.63,"m":1.5,"lo":0.8,"hi":2.9},{"p":10,"h":3.26,"m":5.0,"lo":3.6,"hi":6.4},{"p":10,"h":3.72,"m":11.3,"lo":9.9,"hi":14.1},{"p":10,"h":4.04,"m":18.3,"lo":15.5,"hi":23.8},{"p":10,"h":4.35,"m":33.6,"lo":28.7,"hi":37.8},{"p":10,"h":4.98,"m":38.1,"lo":31.5,"hi":39.9},{"p":10,"h":5.29,"m":38.5,"lo":30.8,"hi":40.6},{"p":10,"h":5.76,"m":35.3,"lo":31.5,"hi":42},{"p":10,"h":6.23,"m":36.5,"lo":30.1,"hi":44},{"p":10,"h":6.54,"m":37.5,"lo":28.7,"hi":48.2},{"p":10,"h":6.85,"m":38.8,"lo":30.8,"hi":42.6},{"p":10,"h":7.64,"m":40.6,"lo":31.5,"hi":42},{"p":10,"h":8.34,"m":39.5,"lo":29.4,"hi":40.6},{"p":10,"h":8.81,"m":41,"lo":29.4,"hi":41.3},{"p":10,"h":9.36,"m":37.1,"lo":28.7,"hi":37.8},{"p":10,"h":9.67,"m":32.2,"lo":26.6,"hi":35},{"p":10,"h":9.98,"m":26.6,"lo":21.7,"hi":30.8},{"p":10,"h":10.45,"m":21.7,"lo":16.9,"hi":25.2},{"p":10,"h":10.77,"m":16.2,"lo":9.9,"hi":18.3},{"p":10,"h":11.24,"m":13.4,"lo":7.8,"hi":15.5},{"p":10,"h":11.86,"m":10.6,"lo":5.7,"hi":12.7},{"p":10,"h":12.8,"m":6.4,"lo":3.3,"hi":7.1},{"p":10,"h":13.74,"m":3.3,"lo":1.5,"hi":4.0},{"p":10,"h":14.68,"m":1.2,"lo":0.5,"hi":1.5},{"p":10,"h":15.46,"m":0,"lo":0,"hi":0},{"p":10,"h":20,"m":0,"lo":0,"hi":0},
      {"p":11,"h":2.32,"m":10,"lo":8.6,"hi":13.8},{"p":11,"h":2.79,"m":14.8,"lo":10.7,"hi":16.2},{"p":11,"h":3.41,"m":17.6,"lo":14.1,"hi":19.7},{"p":11,"h":4.04,"m":19.7,"lo":16.9,"hi":22.5},{"p":11,"h":4.43,"m":21.1,"lo":19.7,"hi":25.6},{"p":11,"h":4.98,"m":26,"lo":25.3,"hi":30.9},{"p":11,"h":5.37,"m":28.4,"lo":23.9,"hi":31.6},{"p":11,"h":5.76,"m":27.4,"lo":23.5,"hi":33},{"p":11,"h":6.07,"m":28.4,"lo":23.2,"hi":32.6},{"p":11,"h":6.38,"m":30.9,"lo":21.8,"hi":31.2},{"p":11,"h":6.7,"m":26.7,"lo":19.7,"hi":29.5},{"p":11,"h":7.17,"m":22.5,"lo":16.9,"hi":23.9},{"p":11,"h":7.64,"m":18.3,"lo":13.5,"hi":19.7},{"p":11,"h":8.11,"m":15.9,"lo":11.4,"hi":17},{"p":11,"h":8.73,"m":11.4,"lo":9.3,"hi":12.8},{"p":11,"h":9.36,"m":7.2,"lo":6.1,"hi":8.6},{"p":11,"h":9.98,"m":5.1,"lo":4.6,"hi":5.6},{"p":11,"h":11.08,"m":3.0,"lo":2.3,"hi":3.4},{"p":11,"h":12.64,"m":0.9,"lo":0.85,"hi":0.95},{"p":11,"h":14.21,"m":0.2,"lo":0.2,"hi":0.2},{"p":11,"h":16.56,"m":0,"lo":0,"hi":0},{"p":11,"h":20,"m":0,"lo":0,"hi":0}
    ],
    "conv": [
      {"p":1,"h":0.35,"m":1.2,"lo":0.9,"hi":1.4},{"p":1,"h":2.0,"m":0.9,"lo":0.5,"hi":1.3},{"p":1,"h":2.7,"m":0.6,"lo":0.3,"hi":1.0},{"p":1,"h":4.5,"m":0.4,"lo":0.1,"hi":0.7},{"p":1,"h":6.3,"m":0.15,"lo":0,"hi":0.3},{"p":1,"h":8,"m":0,"lo":0,"hi":0},{"p":1,"h":20,"m":0,"lo":0,"hi":0},
      {"p":2,"h":0.35,"m":0.5,"lo":0.3,"hi":3.0},{"p":2,"h":1.1,"m":1.2,"lo":0.4,"hi":3.8},{"p":2,"h":1.4,"m":1.9,"lo":0.5,"hi":4.0},{"p":2,"h":2.67,"m":1.9,"lo":0.5,"hi":3.8},{"p":2,"h":4.1,"m":2.2,"lo":0.3,"hi":2.6},{"p":2,"h":4.87,"m":1.1,"lo":0.2,"hi":1.5},{"p":2,"h":5.5,"m":0.15,"lo":0,"hi":0.3},{"p":2,"h":20,"m":0,"lo":0,"hi":0},
      {"p":3,"h":0.35,"m":1.3,"lo":0.7,"hi":2.0},{"p":3,"h":0.63,"m":0.7,"lo":0.4,"hi":2.2},{"p":3,"h":1.1,"m":0.5,"lo":0.15,"hi":2.4},{"p":3,"h":1.73,"m":0.9,"lo":0.4,"hi":2.6},{"p":3,"h":2.2,"m":1.65,"lo":0.3,"hi":2.7},{"p":3,"h":2.67,"m":1.5,"lo":0.15,"hi":2.8},{"p":3,"h":4.24,"m":0.9,"lo":0.15,"hi":2.0},{"p":3,"h":5.8,"m":0.4,"lo":0.1,"hi":0.8},{"p":3,"h":7.4,"m":0,"lo":0,"hi":0},{"p":3,"h":20,"m":0,"lo":0,"hi":0},
      {"p":4,"h":0.31,"m":2.0,"lo":1.3,"hi":2.4},{"p":4,"h":1.1,"m":2.4,"lo":1.6,"hi":3.3},{"p":4,"h":1.89,"m":3.5,"lo":2.4,"hi":4.5},{"p":4,"h":2.51,"m":6.3,"lo":3.8,"hi":7.7},{"p":4,"h":2.98,"m":4.3,"lo":2.8,"hi":7.1},{"p":4,"h":3.77,"m":4.0,"lo":3.1,"hi":7.0},{"p":4,"h":4.7,"m":3.8,"lo":2.8,"hi":6.8},{"p":4,"h":5.34,"m":3.5,"lo":1.4,"hi":5.2},{"p":4,"h":6.13,"m":2.1,"lo":0.7,"hi":2.8},{"p":4,"h":6.9,"m":0.7,"lo":0.3,"hi":1.0},{"p":4,"h":7.7,"m":0,"lo":0,"hi":0},{"p":4,"h":20,"m":0,"lo":0,"hi":0},
      {"p":5,"h":0.24,"m":2.2,"lo":1.7,"hi":2.8},{"p":5,"h":0.79,"m":2.2,"lo":1.6,"hi":3.5},{"p":5,"h":1.41,"m":2.6,"lo":1.7,"hi":4.3},{"p":5,"h":2.2,"m":2.9,"lo":1.5,"hi":4.3},{"p":5,"h":2.98,"m":3.3,"lo":1.2,"hi":4.0},{"p":5,"h":3.77,"m":2.6,"lo":1.2,"hi":3.3},{"p":5,"h":4.56,"m":1.5,"lo":1.0,"hi":2.0},{"p":5,"h":5.34,"m":0.5,"lo":0.3,"hi":0.8},{"p":5,"h":6.13,"m":0.15,"lo":0.1,"hi":0.2},{"p":5,"h":7.7,"m":0,"lo":0,"hi":0},{"p":5,"h":20,"m":0,"lo":0,"hi":0},
      {"p":6,"h":1.74,"m":34.5,"lo":17.8,"hi":43.2},{"p":6,"h":2.13,"m":38.7,"lo":19.5,"hi":43.9},{"p":6,"h":2.52,"m":32.1,"lo":25.1,"hi":45.3},{"p":6,"h":2.99,"m":36.6,"lo":21.6,"hi":50.2},{"p":6,"h":3.39,"m":32.8,"lo":25.1,"hi":57.8},{"p":6,"h":3.78,"m":40.8,"lo":32.8,"hi":76},{"p":6,"h":4.09,"m":44.6,"lo":33.4,"hi":76.7},{"p":6,"h":4.25,"m":40.1,"lo":33.2,"hi":70},{"p":6,"h":4.4,"m":36.2,"lo":32.8,"hi":58.5},{"p":6,"h":4.95,"m":33.4,"lo":20.2,"hi":48.8},{"p":6,"h":5.74,"m":30.7,"lo":19.5,"hi":41.8},{"p":6,"h":6.13,"m":24.4,"lo":19.5,"hi":33.4},{"p":6,"h":6.91,"m":19.5,"lo":13.2,"hi":27.9},{"p":6,"h":7.23,"m":15.0,"lo":12.4,"hi":25.5},{"p":6,"h":7.93,"m":12.5,"lo":11,"hi":22.5},{"p":6,"h":8.24,"m":10.8,"lo":10.8,"hi":20.9},{"p":6,"h":8.56,"m":15.0,"lo":10,"hi":18.5},{"p":6,"h":8.87,"m":12.5,"lo":9.8,"hi":16.7},{"p":6,"h":9.65,"m":9.1,"lo":5.6,"hi":11.8},{"p":6,"h":10.6,"m":4.9,"lo":1.0,"hi":7.7},{"p":6,"h":11.85,"m":2.4,"lo":0.2,"hi":3.8},{"p":6,"h":13.4,"m":0.8,"lo":0.6,"hi":1.5},{"p":6,"h":15.3,"m":0,"lo":0,"hi":0},{"p":6,"h":20,"m":0,"lo":0,"hi":0},
      {"p":7,"h":0.88,"m":1.4,"lo":1.0,"hi":2.4},{"p":7,"h":1.97,"m":1.0,"lo":0.3,"hi":2.2},{"p":7,"h":2.6,"m":0.8,"lo":0.5,"hi":3.3},{"p":7,"h":2.99,"m":5.0,"lo":1.5,"hi":5.7},{"p":7,"h":3.39,"m":9.9,"lo":5.0,"hi":9.9},{"p":7,"h":3.86,"m":5.7,"lo":4.3,"hi":12},{"p":7,"h":4.17,"m":4.7,"lo":4.0,"hi":15.5},{"p":7,"h":4.87,"m":4.7,"lo":4.0,"hi":14.8},{"p":7,"h":5.27,"m":11.6,"lo":5.0,"hi":12.7},{"p":7,"h":6.05,"m":10.2,"lo":5.0,"hi":11.3},{"p":7,"h":6.83,"m":8.9,"lo":4.0,"hi":9.9},{"p":7,"h":7.93,"m":5.7,"lo":4.0,"hi":6.8},{"p":7,"h":8.24,"m":4.6,"lo":1.2,"hi":5.0},{"p":7,"h":8.87,"m":3.3,"lo":1.2,"hi":4},{"p":7,"h":9.34,"m":1.4,"lo":0.8,"hi":2.9},{"p":7,"h":10.28,"m":0.3,"lo":0.2,"hi":0.4},{"p":7,"h":14.2,"m":0,"lo":0,"hi":0},{"p":7,"h":20,"m":0,"lo":0,"hi":0},
      {"p":8,"h":0.49,"m":10.0,"lo":5.4,"hi":10.3},{"p":8,"h":0.88,"m":7.2,"lo":5.1,"hi":11},{"p":8,"h":1.27,"m":8.6,"lo":3.3,"hi":11.4},{"p":8,"h":1.66,"m":4.0,"lo":3.0,"hi":13.4},{"p":8,"h":2.13,"m":6.5,"lo":3.3,"hi":8.6},{"p":8,"h":2.6,"m":8.6,"lo":2.6,"hi":9.3},{"p":8,"h":2.92,"m":11.7,"lo":2.0,"hi":12.8},{"p":8,"h":3.31,"m":9.3,"lo":2.3,"hi":12.1},{"p":8,"h":3.7,"m":11.4,"lo":5.8,"hi":18.3},{"p":8,"h":4.09,"m":14.8,"lo":10,"hi":20.4},{"p":8,"h":4.48,"m":14.8,"lo":5.4,"hi":19.7},{"p":8,"h":4.95,"m":13.4,"lo":4.7,"hi":17.3},{"p":8,"h":5.5,"m":11.4,"lo":4.0,"hi":14.1},{"p":8,"h":5.82,"m":3.0,"lo":2.3,"hi":9.3},{"p":8,"h":6.83,"m":2.0,"lo":1.25,"hi":5.8},{"p":8,"h":7.93,"m":0.55,"lo":0.2,"hi":2.0},{"p":8,"h":8.71,"m":0,"lo":0,"hi":0},{"p":8,"h":20,"m":0,"lo":0,"hi":0},
      {"p":9,"h":1.66,"m":1.4,"lo":1.0,"hi":3.5},{"p":9,"h":2.0,"m":7.0,"lo":2.4,"hi":9.4},{"p":9,"h":2.47,"m":11.1,"lo":6.6,"hi":13.9},{"p":9,"h":2.86,"m":16.4,"lo":9.8,"hi":18.8},{"p":9,"h":3.26,"m":15.7,"lo":13.2,"hi":25.8},{"p":9,"h":3.72,"m":21.6,"lo":18.1,"hi":33.4},{"p":9,"h":4.19,"m":24.4,"lo":22.3,"hi":36.9},{"p":9,"h":4.43,"m":34.8,"lo":29,"hi":37.2},{"p":9,"h":4.82,"m":32.8,"lo":29.3,"hi":37.6},{"p":9,"h":5.13,"m":31.4,"lo":27.9,"hi":36.9},{"p":9,"h":5.6,"m":29.3,"lo":26.5,"hi":34.1},{"p":9,"h":6.23,"m":30.7,"lo":21.6,"hi":31.4},{"p":9,"h":7.01,"m":26.5,"lo":18.1,"hi":28},{"p":9,"h":7.56,"m":20.9,"lo":10.5,"hi":23.7},{"p":9,"h":8.11,"m":20.6,"lo":8.4,"hi":21.6},{"p":9,"h":8.73,"m":15.3,"lo":7.3,"hi":17.4},{"p":9,"h":9.67,"m":7.7,"lo":4.9,"hi":11.8},{"p":9,"h":10.61,"m":4.9,"lo":4.5,"hi":7.0},{"p":9,"h":11.55,"m":3.5,"lo":2.4,"hi":6.3},{"p":9,"h":12.49,"m":1.7,"lo":1.0,"hi":3.8},{"p":9,"h":13.43,"m":1.0,"lo":0.7,"hi":2.8},{"p":9,"h":14.05,"m":1.4,"lo":0.7,"hi":2.8},{"p":9,"h":15.3,"m":0.7,"lo":0.35,"hi":1.4},{"p":9,"h":17.03,"m":0,"lo":0,"hi":0},{"p":9,"h":20,"m":0,"lo":0,"hi":0},
      {"p":10,"h":0.91,"m":0.15,"lo":0,"hi":0.3},{"p":10,"h":1.69,"m":0.3,"lo":0.1,"hi":0.8},{"p":10,"h":2.47,"m":0.8,"lo":0.5,"hi":1.5},{"p":10,"h":3.1,"m":1.2,"lo":0.7,"hi":3.6},{"p":10,"h":3.57,"m":3.5,"lo":1.0,"hi":4.0},{"p":10,"h":4.19,"m":2.9,"lo":1.2,"hi":4.0},{"p":10,"h":4.98,"m":3.6,"lo":1.5,"hi":4.2},{"p":10,"h":5.6,"m":3.3,"lo":1.2,"hi":4.0},{"p":10,"h":6.54,"m":2.6,"lo":0.8,"hi":3.3},{"p":10,"h":7.48,"m":1.5,"lo":0.35,"hi":2.6},{"p":10,"h":7.79,"m":0.5,"lo":0.15,"hi":1.5},{"p":10,"h":8.73,"m":0.15,"lo":0.1,"hi":0.2},{"p":10,"h":10.3,"m":0,"lo":0,"hi":0},{"p":10,"h":20,"m":0,"lo":0,"hi":0},
      {"p":11,"h":2.32,"m":0.1,"lo":0,"hi":0.35},{"p":11,"h":3.26,"m":0.2,"lo":0,"hi":0.9},{"p":11,"h":3.88,"m":1.25,"lo":0.2,"hi":2.6},{"p":11,"h":4.35,"m":2.6,"lo":1.25,"hi":4.7},{"p":11,"h":4.98,"m":3.5,"lo":2.3,"hi":7.2},{"p":11,"h":5.68,"m":3.7,"lo":2.0,"hi":11.7},{"p":11,"h":6.07,"m":5.1,"lo":1.6,"hi":11.7},{"p":11,"h":6.38,"m":7.2,"lo":1.6,"hi":11.7},{"p":11,"h":6.62,"m":9.6,"lo":2.0,"hi":11.7},{"p":11,"h":7.17,"m":10,"lo":2.0,"hi":10.7},{"p":11,"h":7.95,"m":9.3,"lo":1.25,"hi":10},{"p":11,"h":9.05,"m":7.9,"lo":1.6,"hi":8.2},{"p":11,"h":9.98,"m":6.1,"lo":1.25,"hi":7.2},{"p":11,"h":11.08,"m":4.4,"lo":0.35,"hi":5.1},{"p":11,"h":12.64,"m":2.3,"lo":1.6,"hi":3.0},{"p":11,"h":14.21,"m":0.55,"lo":0.3,"hi":0.8},{"p":11,"h":16.56,"m":0,"lo":0,"hi":0},{"p":11,"h":20,"m":0,"lo":0,"hi":0}
    ]
  },
  "spacing": 77,
  "resolve": {"scale": {"color": "independent"}, "legend": {"color": "independent"}},
  "vconcat": [
    {
      "columns": 3,
      "bounds": "flush",
      "spacing": {"row": 153, "column": 159},
      "resolve": {"scale": {"color": "independent"}, "legend": {"color": "independent"}},
      "concat": [
        {"width":427,"height":427,"title":{"text":["2020-12-20-AR-case-V06-drift","pseudo-EDA"]},"resolve":{"axis":{"x":"independent","y":"independent"}},"layer":[
          {"data":{"name":"total"},"transform":[{"filter":"datum.p==1"}],"mark":{"type":"area","orient":"horizontal","color":"#9400D3","opacity":0.5},"encoding":{"y":{"field":"h","type":"quantitative","scale":{"domain":[0,20],"nice":false},"axis":{"title":"tangent height [km]"}},"x":{"field":"lo","type":"quantitative","scale":{"domain":[-9,80],"nice":false,"zero":false},"axis":{"title":"dPhi [mm]"}},"x2":{"field":"hi"}}},
          {"data":{"name":"total"},"transform":[{"filter":"datum.p==1"}],"mark":{"type":"line","strokeWidth":1.5},"encoding":{"y":{"field":"h","type":"quantitative","axis":{"orient":"right","labels":false,"title":null}},"x":{"field":"m","type":"quantitative","axis":{"orient":"top","labels":false,"title":null}},"order":{"field":"h","type":"quantitative"},"color":{"datum":"dPhi (total)","type":"nominal","scale":{"domain":["dPhi (total)","dPhi(resol.snow)","dPhi(conv. snow)"],"range":["#9400D3","#009E73","#56B4E9"]},"legend":{"title":null,"orient":"none","legendX":350.75,"legendY":12.5,"direction":"vertical"}}}},
          {"data":{"name":"resol"},"transform":[{"filter":"datum.p==1"}],"mark":{"type":"area","orient":"horizontal","color":"#009E73","opacity":0.5},"encoding":{"y":{"field":"h","type":"quantitative","axis":null},"x":{"field":"lo","type":"quantitative","axis":null},"x2":{"field":"hi"}}},
          {"data":{"name":"resol"},"transform":[{"filter":"datum.p==1"}],"mark":{"type":"line","strokeWidth":1.5},"encoding":{"y":{"field":"h","type":"quantitative","axis":null},"x":{"field":"m","type":"quantitative","axis":null},"order":{"field":"h","type":"quantitative"},"color":{"datum":"dPhi(resol.snow)","type":"nominal"}}},
          {"data":{"name":"conv"},"transform":[{"filter":"datum.p==1"}],"mark":{"type":"area","orient":"horizontal","color":"#56B4E9","opacity":0.5},"encoding":{"y":{"field":"h","type":"quantitative","axis":null},"x":{"field":"lo","type":"quantitative","axis":null},"x2":{"field":"hi"}}},
          {"data":{"name":"conv"},"transform":[{"filter":"datum.p==1"}],"mark":{"type":"line","strokeWidth":1.5},"encoding":{"y":{"field":"h","type":"quantitative","axis":null},"x":{"field":"m","type":"quantitative","axis":null},"order":{"field":"h","type":"quantitative"},"color":{"datum":"dPhi(conv. snow)","type":"nominal"}}}
        ]},
        {"width":427,"height":427,"title":{"text":["2020-12-21-AR-case-V06-drift","pseudo-EDA"]},"resolve":{"axis":{"x":"independent","y":"independent"}},"layer":[
          {"data":{"name":"total"},"transform":[{"filter":"datum.p==2"}],"mark":{"type":"area","orient":"horizontal","color":"#9400D3","opacity":0.5},"encoding":{"y":{"field":"h","type":"quantitative","scale":{"domain":[0,20],"nice":false},"axis":{"title":"tangent height [km]"}},"x":{"field":"lo","type":"quantitative","scale":{"domain":[-9,80],"nice":false,"zero":false},"axis":{"title":"dPhi [mm]"}},"x2":{"field":"hi"}}},
          {"data":{"name":"total"},"transform":[{"filter":"datum.p==2"}],"mark":{"type":"line","strokeWidth":1.5},"encoding":{"y":{"field":"h","type":"quantitative","axis":{"orient":"right","labels":false,"title":null}},"x":{"field":"m","type":"quantitative","axis":{"orient":"top","labels":false,"title":null}},"order":{"field":"h","type":"quantitative"},"color":{"datum":"dPhi (total)","type":"nominal","scale":{"domain":["dPhi (total)","dPhi(resol.snow)","dPhi(conv. snow)"],"range":["#9400D3","#009E73","#56B4E9"]},"legend":{"title":null,"orient":"none","legendX":350.75,"legendY":12.5,"direction":"vertical"}}}},
          {"data":{"name":"resol"},"transform":[{"filter":"datum.p==2"}],"mark":{"type":"area","orient":"horizontal","color":"#009E73","opacity":0.5},"encoding":{"y":{"field":"h","type":"quantitative","axis":null},"x":{"field":"lo","type":"quantitative","axis":null},"x2":{"field":"hi"}}},
          {"data":{"name":"resol"},"transform":[{"filter":"datum.p==2"}],"mark":{"type":"line","strokeWidth":1.5},"encoding":{"y":{"field":"h","type":"quantitative","axis":null},"x":{"field":"m","type":"quantitative","axis":null},"order":{"field":"h","type":"quantitative"},"color":{"datum":"dPhi(resol.snow)","type":"nominal"}}},
          {"data":{"name":"conv"},"transform":[{"filter":"datum.p==2"}],"mark":{"type":"area","orient":"horizontal","color":"#56B4E9","opacity":0.5},"encoding":{"y":{"field":"h","type":"quantitative","axis":null},"x":{"field":"lo","type":"quantitative","axis":null},"x2":{"field":"hi"}}},
          {"data":{"name":"conv"},"transform":[{"filter":"datum.p==2"}],"mark":{"type":"line","strokeWidth":1.5},"encoding":{"y":{"field":"h","type":"quantitative","axis":null},"x":{"field":"m","type":"quantitative","axis":null},"order":{"field":"h","type":"quantitative"},"color":{"datum":"dPhi(conv. snow)","type":"nominal"}}}
        ]},
        {"width":427,"height":427,"title":{"text":["2021-01-09-AR-case-V06-drift","pseudo-EDA"]},"resolve":{"axis":{"x":"independent","y":"independent"}},"layer":[
          {"data":{"name":"total"},"transform":[{"filter":"datum.p==3"}],"mark":{"type":"area","orient":"horizontal","color":"#9400D3","opacity":0.5},"encoding":{"y":{"field":"h","type":"quantitative","scale":{"domain":[0,20],"nice":false},"axis":{"title":"tangent height [km]"}},"x":{"field":"lo","type":"quantitative","scale":{"domain":[-9,80],"nice":false,"zero":false},"axis":{"title":"dPhi [mm]"}},"x2":{"field":"hi"}}},
          {"data":{"name":"total"},"transform":[{"filter":"datum.p==3"}],"mark":{"type":"line","strokeWidth":1.5},"encoding":{"y":{"field":"h","type":"quantitative","axis":{"orient":"right","labels":false,"title":null}},"x":{"field":"m","type":"quantitative","axis":{"orient":"top","labels":false,"title":null}},"order":{"field":"h","type":"quantitative"},"color":{"datum":"dPhi (total)","type":"nominal","scale":{"domain":["dPhi (total)","dPhi(resol.snow)","dPhi(conv. snow)"],"range":["#9400D3","#009E73","#56B4E9"]},"legend":{"title":null,"orient":"none","legendX":350.75,"legendY":12.5,"direction":"vertical"}}}},
          {"data":{"name":"resol"},"transform":[{"filter":"datum.p==3"}],"mark":{"type":"area","orient":"horizontal","color":"#009E73","opacity":0.5},"encoding":{"y":{"field":"h","type":"quantitative","axis":null},"x":{"field":"lo","type":"quantitative","axis":null},"x2":{"field":"hi"}}},
          {"data":{"name":"resol"},"transform":[{"filter":"datum.p==3"}],"mark":{"type":"line","strokeWidth":1.5},"encoding":{"y":{"field":"h","type":"quantitative","axis":null},"x":{"field":"m","type":"quantitative","axis":null},"order":{"field":"h","type":"quantitative"},"color":{"datum":"dPhi(resol.snow)","type":"nominal"}}},
          {"data":{"name":"conv"},"transform":[{"filter":"datum.p==3"}],"mark":{"type":"area","orient":"horizontal","color":"#56B4E9","opacity":0.5},"encoding":{"y":{"field":"h","type":"quantitative","axis":null},"x":{"field":"lo","type":"quantitative","axis":null},"x2":{"field":"hi"}}},
          {"data":{"name":"conv"},"transform":[{"filter":"datum.p==3"}],"mark":{"type":"line","strokeWidth":1.5},"encoding":{"y":{"field":"h","type":"quantitative","axis":null},"x":{"field":"m","type":"quantitative","axis":null},"order":{"field":"h","type":"quantitative"},"color":{"datum":"dPhi(conv. snow)","type":"nominal"}}}
        ]},
        {"width":427,"height":427,"title":{"text":["2021-01-10-AR-case-V06-drift","pseudo-EDA"]},"resolve":{"axis":{"x":"independent","y":"independent"}},"layer":[
          {"data":{"name":"total"},"transform":[{"filter":"datum.p==4"}],"mark":{"type":"area","orient":"horizontal","color":"#9400D3","opacity":0.5},"encoding":{"y":{"field":"h","type":"quantitative","scale":{"domain":[0,20],"nice":false},"axis":{"title":"tangent height [km]"}},"x":{"field":"lo","type":"quantitative","scale":{"domain":[-9,80],"nice":false,"zero":false},"axis":{"title":"dPhi [mm]"}},"x2":{"field":"hi"}}},
          {"data":{"name":"total"},"transform":[{"filter":"datum.p==4"}],"mark":{"type":"line","strokeWidth":1.5},"encoding":{"y":{"field":"h","type":"quantitative","axis":{"orient":"right","labels":false,"title":null}},"x":{"field":"m","type":"quantitative","axis":{"orient":"top","labels":false,"title":null}},"order":{"field":"h","type":"quantitative"},"color":{"datum":"dPhi (total)","type":"nominal","scale":{"domain":["dPhi (total)","dPhi(resol.snow)","dPhi(conv. snow)"],"range":["#9400D3","#009E73","#56B4E9"]},"legend":{"title":null,"orient":"none","legendX":350.75,"legendY":12.5,"direction":"vertical"}}}},
          {"data":{"name":"resol"},"transform":[{"filter":"datum.p==4"}],"mark":{"type":"area","orient":"horizontal","color":"#009E73","opacity":0.5},"encoding":{"y":{"field":"h","type":"quantitative","axis":null},"x":{"field":"lo","type":"quantitative","axis":null},"x2":{"field":"hi"}}},
          {"data":{"name":"resol"},"transform":[{"filter":"datum.p==4"}],"mark":{"type":"line","strokeWidth":1.5},"encoding":{"y":{"field":"h","type":"quantitative","axis":null},"x":{"field":"m","type":"quantitative","axis":null},"order":{"field":"h","type":"quantitative"},"color":{"datum":"dPhi(resol.snow)","type":"nominal"}}},
          {"data":{"name":"conv"},"transform":[{"filter":"datum.p==4"}],"mark":{"type":"area","orient":"horizontal","color":"#56B4E9","opacity":0.5},"encoding":{"y":{"field":"h","type":"quantitative","axis":null},"x":{"field":"lo","type":"quantitative","axis":null},"x2":{"field":"hi"}}},
          {"data":{"name":"conv"},"transform":[{"filter":"datum.p==4"}],"mark":{"type":"line","strokeWidth":1.5},"encoding":{"y":{"field":"h","type":"quantitative","axis":null},"x":{"field":"m","type":"quantitative","axis":null},"order":{"field":"h","type":"quantitative"},"color":{"datum":"dPhi(conv. snow)","type":"nominal"}}}
        ]},
        {"width":427,"height":427,"title":{"text":["2021-01-14-AR-case-V06-drift","pseudo-EDA"]},"resolve":{"axis":{"x":"independent","y":"independent"}},"layer":[
          {"data":{"name":"total"},"transform":[{"filter":"datum.p==5"}],"mark":{"type":"area","orient":"horizontal","color":"#9400D3","opacity":0.5},"encoding":{"y":{"field":"h","type":"quantitative","scale":{"domain":[0,20],"nice":false},"axis":{"title":"tangent height [km]"}},"x":{"field":"lo","type":"quantitative","scale":{"domain":[-9,80],"nice":false,"zero":false},"axis":{"title":"dPhi [mm]"}},"x2":{"field":"hi"}}},
          {"data":{"name":"total"},"transform":[{"filter":"datum.p==5"}],"mark":{"type":"line","strokeWidth":1.5},"encoding":{"y":{"field":"h","type":"quantitative","axis":{"orient":"right","labels":false,"title":null}},"x":{"field":"m","type":"quantitative","axis":{"orient":"top","labels":false,"title":null}},"order":{"field":"h","type":"quantitative"},"color":{"datum":"dPhi (total)","type":"nominal","scale":{"domain":["dPhi (total)","dPhi(resol.snow)","dPhi(conv. snow)"],"range":["#9400D3","#009E73","#56B4E9"]},"legend":{"title":null,"orient":"none","legendX":350.75,"legendY":12.5,"direction":"vertical"}}}},
          {"data":{"name":"resol"},"transform":[{"filter":"datum.p==5"}],"mark":{"type":"area","orient":"horizontal","color":"#009E73","opacity":0.5},"encoding":{"y":{"field":"h","type":"quantitative","axis":null},"x":{"field":"lo","type":"quantitative","axis":null},"x2":{"field":"hi"}}},
          {"data":{"name":"resol"},"transform":[{"filter":"datum.p==5"}],"mark":{"type":"line","strokeWidth":1.5},"encoding":{"y":{"field":"h","type":"quantitative","axis":null},"x":{"field":"m","type":"quantitative","axis":null},"order":{"field":"h","type":"quantitative"},"color":{"datum":"dPhi(resol.snow)","type":"nominal"}}},
          {"data":{"name":"conv"},"transform":[{"filter":"datum.p==5"}],"mark":{"type":"area","orient":"horizontal","color":"#56B4E9","opacity":0.5},"encoding":{"y":{"field":"h","type":"quantitative","axis":null},"x":{"field":"lo","type":"quantitative","axis":null},"x2":{"field":"hi"}}},
          {"data":{"name":"conv"},"transform":[{"filter":"datum.p==5"}],"mark":{"type":"line","strokeWidth":1.5},"encoding":{"y":{"field":"h","type":"quantitative","axis":null},"x":{"field":"m","type":"quantitative","axis":null},"order":{"field":"h","type":"quantitative"},"color":{"datum":"dPhi(conv. snow)","type":"nominal"}}}
        ]}
      ]
    },
    {
      "columns": 3,
      "bounds": "flush",
      "spacing": {"row": 153, "column": 159},
      "resolve": {"scale": {"color": "independent"}, "legend": {"color": "independent"}},
      "concat": [
        {"width":427,"height":427,"title":{"text":["2018-05-23-MEKUNU:SAGAR-V06-drift","pseudo-EDA"]},"resolve":{"axis":{"x":"independent","y":"independent"}},"layer":[
          {"data":{"name":"total"},"transform":[{"filter":"datum.p==6"}],"mark":{"type":"area","orient":"horizontal","color":"#9400D3","opacity":0.5},"encoding":{"y":{"field":"h","type":"quantitative","scale":{"domain":[0,20],"nice":false},"axis":{"title":"tangent height [km]"}},"x":{"field":"lo","type":"quantitative","scale":{"domain":[-9,80],"nice":false,"zero":false},"axis":{"title":"dPhi [mm]"}},"x2":{"field":"hi"}}},
          {"data":{"name":"total"},"transform":[{"filter":"datum.p==6"}],"mark":{"type":"line","strokeWidth":1.5},"encoding":{"y":{"field":"h","type":"quantitative","axis":{"orient":"right","labels":false,"title":null}},"x":{"field":"m","type":"quantitative","axis":{"orient":"top","labels":false,"title":null}},"order":{"field":"h","type":"quantitative"},"color":{"datum":"dPhi (total)","type":"nominal","scale":{"domain":["dPhi (total)","dPhi(resol.snow)","dPhi(conv. snow)"],"range":["#9400D3","#009E73","#56B4E9"]},"legend":{"title":null,"orient":"none","legendX":350.75,"legendY":12.5,"direction":"vertical"}}}},
          {"data":{"name":"resol"},"transform":[{"filter":"datum.p==6"}],"mark":{"type":"area","orient":"horizontal","color":"#009E73","opacity":0.5},"encoding":{"y":{"field":"h","type":"quantitative","axis":null},"x":{"field":"lo","type":"quantitative","axis":null},"x2":{"field":"hi"}}},
          {"data":{"name":"resol"},"transform":[{"filter":"datum.p==6"}],"mark":{"type":"line","strokeWidth":1.5},"encoding":{"y":{"field":"h","type":"quantitative","axis":null},"x":{"field":"m","type":"quantitative","axis":null},"order":{"field":"h","type":"quantitative"},"color":{"datum":"dPhi(resol.snow)","type":"nominal"}}},
          {"data":{"name":"conv"},"transform":[{"filter":"datum.p==6"}],"mark":{"type":"area","orient":"horizontal","color":"#56B4E9","opacity":0.5},"encoding":{"y":{"field":"h","type":"quantitative","axis":null},"x":{"field":"lo","type":"quantitative","axis":null},"x2":{"field":"hi"}}},
          {"data":{"name":"conv"},"transform":[{"filter":"datum.p==6"}],"mark":{"type":"line","strokeWidth":1.5},"encoding":{"y":{"field":"h","type":"quantitative","axis":null},"x":{"field":"m","type":"quantitative","axis":null},"order":{"field":"h","type":"quantitative"},"color":{"datum":"dPhi(conv. snow)","type":"nominal"}}}
        ]},
        {"width":427,"height":427,"title":{"text":["2018-10-03-LESLIE-V06-drift","pseudo-EDA"]},"resolve":{"axis":{"x":"independent","y":"independent"}},"layer":[
          {"data":{"name":"total"},"transform":[{"filter":"datum.p==7"}],"mark":{"type":"area","orient":"horizontal","color":"#9400D3","opacity":0.5},"encoding":{"y":{"field":"h","type":"quantitative","scale":{"domain":[0,20],"nice":false},"axis":{"title":"tangent height [km]"}},"x":{"field":"lo","type":"quantitative","scale":{"domain":[-9,80],"nice":false,"zero":false},"axis":{"title":"dPhi [mm]"}},"x2":{"field":"hi"}}},
          {"data":{"name":"total"},"transform":[{"filter":"datum.p==7"}],"mark":{"type":"line","strokeWidth":1.5},"encoding":{"y":{"field":"h","type":"quantitative","axis":{"orient":"right","labels":false,"title":null}},"x":{"field":"m","type":"quantitative","axis":{"orient":"top","labels":false,"title":null}},"order":{"field":"h","type":"quantitative"},"color":{"datum":"dPhi (total)","type":"nominal","scale":{"domain":["dPhi (total)","dPhi(resol.snow)","dPhi(conv. snow)"],"range":["#9400D3","#009E73","#56B4E9"]},"legend":{"title":null,"orient":"none","legendX":350.75,"legendY":12.5,"direction":"vertical"}}}},
          {"data":{"name":"resol"},"transform":[{"filter":"datum.p==7"}],"mark":{"type":"area","orient":"horizontal","color":"#009E73","opacity":0.5},"encoding":{"y":{"field":"h","type":"quantitative","axis":null},"x":{"field":"lo","type":"quantitative","axis":null},"x2":{"field":"hi"}}},
          {"data":{"name":"resol"},"transform":[{"filter":"datum.p==7"}],"mark":{"type":"line","strokeWidth":1.5},"encoding":{"y":{"field":"h","type":"quantitative","axis":null},"x":{"field":"m","type":"quantitative","axis":null},"order":{"field":"h","type":"quantitative"},"color":{"datum":"dPhi(resol.snow)","type":"nominal"}}},
          {"data":{"name":"conv"},"transform":[{"filter":"datum.p==7"}],"mark":{"type":"area","orient":"horizontal","color":"#56B4E9","opacity":0.5},"encoding":{"y":{"field":"h","type":"quantitative","axis":null},"x":{"field":"lo","type":"quantitative","axis":null},"x2":{"field":"hi"}}},
          {"data":{"name":"conv"},"transform":[{"filter":"datum.p==7"}],"mark":{"type":"line","strokeWidth":1.5},"encoding":{"y":{"field":"h","type":"quantitative","axis":null},"x":{"field":"m","type":"quantitative","axis":null},"order":{"field":"h","type":"quantitative"},"color":{"datum":"dPhi(conv. snow)","type":"nominal"}}}
        ]},
        {"width":427,"height":427,"title":{"text":["2019-10-23-BUALOI-V06-drift","pseudo-EDA"]},"resolve":{"axis":{"x":"independent","y":"independent"}},"layer":[
          {"data":{"name":"total"},"transform":[{"filter":"datum.p==8"}],"mark":{"type":"area","orient":"horizontal","color":"#9400D3","opacity":0.5},"encoding":{"y":{"field":"h","type":"quantitative","scale":{"domain":[0,20],"nice":false},"axis":{"title":"tangent height [km]"}},"x":{"field":"lo","type":"quantitative","scale":{"domain":[-9,80],"nice":false,"zero":false},"axis":{"title":"dPhi [mm]"}},"x2":{"field":"hi"}}},
          {"data":{"name":"total"},"transform":[{"filter":"datum.p==8"}],"mark":{"type":"line","strokeWidth":1.5},"encoding":{"y":{"field":"h","type":"quantitative","axis":{"orient":"right","labels":false,"title":null}},"x":{"field":"m","type":"quantitative","axis":{"orient":"top","labels":false,"title":null}},"order":{"field":"h","type":"quantitative"},"color":{"datum":"dPhi (total)","type":"nominal","scale":{"domain":["dPhi (total)","dPhi(resol.snow)","dPhi(conv. snow)"],"range":["#9400D3","#009E73","#56B4E9"]},"legend":{"title":null,"orient":"none","legendX":350.75,"legendY":12.5,"direction":"vertical"}}}},
          {"data":{"name":"resol"},"transform":[{"filter":"datum.p==8"}],"mark":{"type":"area","orient":"horizontal","color":"#009E73","opacity":0.5},"encoding":{"y":{"field":"h","type":"quantitative","axis":null},"x":{"field":"lo","type":"quantitative","axis":null},"x2":{"field":"hi"}}},
          {"data":{"name":"resol"},"transform":[{"filter":"datum.p==8"}],"mark":{"type":"line","strokeWidth":1.5},"encoding":{"y":{"field":"h","type":"quantitative","axis":null},"x":{"field":"m","type":"quantitative","axis":null},"order":{"field":"h","type":"quantitative"},"color":{"datum":"dPhi(resol.snow)","type":"nominal"}}},
          {"data":{"name":"conv"},"transform":[{"filter":"datum.p==8"}],"mark":{"type":"area","orient":"horizontal","color":"#56B4E9","opacity":0.5},"encoding":{"y":{"field":"h","type":"quantitative","axis":null},"x":{"field":"lo","type":"quantitative","axis":null},"x2":{"field":"hi"}}},
          {"data":{"name":"conv"},"transform":[{"filter":"datum.p==8"}],"mark":{"type":"line","strokeWidth":1.5},"encoding":{"y":{"field":"h","type":"quantitative","axis":null},"x":{"field":"m","type":"quantitative","axis":null},"order":{"field":"h","type":"quantitative"},"color":{"datum":"dPhi(conv. snow)","type":"nominal"}}}
        ]},
        {"width":427,"height":427,"title":{"text":["2019-10-30-MATMO-V06-drift","pseudo-EDA"]},"resolve":{"axis":{"x":"independent","y":"independent"}},"layer":[
          {"data":{"name":"total"},"transform":[{"filter":"datum.p==9"}],"mark":{"type":"area","orient":"horizontal","color":"#9400D3","opacity":0.5},"encoding":{"y":{"field":"h","type":"quantitative","scale":{"domain":[0,20],"nice":false},"axis":{"title":"tangent height [km]"}},"x":{"field":"lo","type":"quantitative","scale":{"domain":[-9,80],"nice":false,"zero":false},"axis":{"title":"dPhi [mm]"}},"x2":{"field":"hi"}}},
          {"data":{"name":"total"},"transform":[{"filter":"datum.p==9"}],"mark":{"type":"line","strokeWidth":1.5},"encoding":{"y":{"field":"h","type":"quantitative","axis":{"orient":"right","labels":false,"title":null}},"x":{"field":"m","type":"quantitative","axis":{"orient":"top","labels":false,"title":null}},"order":{"field":"h","type":"quantitative"},"color":{"datum":"dPhi (total)","type":"nominal","scale":{"domain":["dPhi (total)","dPhi(resol.snow)","dPhi(conv. snow)"],"range":["#9400D3","#009E73","#56B4E9"]},"legend":{"title":null,"orient":"none","legendX":350.75,"legendY":12.5,"direction":"vertical"}}}},
          {"data":{"name":"resol"},"transform":[{"filter":"datum.p==9"}],"mark":{"type":"area","orient":"horizontal","color":"#009E73","opacity":0.5},"encoding":{"y":{"field":"h","type":"quantitative","axis":null},"x":{"field":"lo","type":"quantitative","axis":null},"x2":{"field":"hi"}}},
          {"data":{"name":"resol"},"transform":[{"filter":"datum.p==9"}],"mark":{"type":"line","strokeWidth":1.5},"encoding":{"y":{"field":"h","type":"quantitative","axis":null},"x":{"field":"m","type":"quantitative","axis":null},"order":{"field":"h","type":"quantitative"},"color":{"datum":"dPhi(resol.snow)","type":"nominal"}}},
          {"data":{"name":"conv"},"transform":[{"filter":"datum.p==9"}],"mark":{"type":"area","orient":"horizontal","color":"#56B4E9","opacity":0.5},"encoding":{"y":{"field":"h","type":"quantitative","axis":null},"x":{"field":"lo","type":"quantitative","axis":null},"x2":{"field":"hi"}}},
          {"data":{"name":"conv"},"transform":[{"filter":"datum.p==9"}],"mark":{"type":"line","strokeWidth":1.5},"encoding":{"y":{"field":"h","type":"quantitative","axis":null},"x":{"field":"m","type":"quantitative","axis":null},"order":{"field":"h","type":"quantitative"},"color":{"datum":"dPhi(conv. snow)","type":"nominal"}}}
        ]},
        {"width":427,"height":427,"title":{"text":["2021-09-06-LARRY-V06-drift","pseudo-EDA"]},"resolve":{"axis":{"x":"independent","y":"independent"}},"layer":[
          {"data":{"name":"total"},"transform":[{"filter":"datum.p==10"}],"mark":{"type":"area","orient":"horizontal","color":"#9400D3","opacity":0.5},"encoding":{"y":{"field":"h","type":"quantitative","scale":{"domain":[0,20],"nice":false},"axis":{"title":"tangent height [km]"}},"x":{"field":"lo","type":"quantitative","scale":{"domain":[-9,80],"nice":false,"zero":false},"axis":{"title":"dPhi [mm]"}},"x2":{"field":"hi"}}},
          {"data":{"name":"total"},"transform":[{"filter":"datum.p==10"}],"mark":{"type":"line","strokeWidth":1.5},"encoding":{"y":{"field":"h","type":"quantitative","axis":{"orient":"right","labels":false,"title":null}},"x":{"field":"m","type":"quantitative","axis":{"orient":"top","labels":false,"title":null}},"order":{"field":"h","type":"quantitative"},"color":{"datum":"dPhi (total)","type":"nominal","scale":{"domain":["dPhi (total)","dPhi(resol.snow)","dPhi(conv. snow)"],"range":["#9400D3","#009E73","#56B4E9"]},"legend":{"title":null,"orient":"none","legendX":350.75,"legendY":12.5,"direction":"vertical"}}}},
          {"data":{"name":"resol"},"transform":[{"filter":"datum.p==10"}],"mark":{"type":"area","orient":"horizontal","color":"#009E73","opacity":0.5},"encoding":{"y":{"field":"h","type":"quantitative","axis":null},"x":{"field":"lo","type":"quantitative","axis":null},"x2":{"field":"hi"}}},
          {"data":{"name":"resol"},"transform":[{"filter":"datum.p==10"}],"mark":{"type":"line","strokeWidth":1.5},"encoding":{"y":{"field":"h","type":"quantitative","axis":null},"x":{"field":"m","type":"quantitative","axis":null},"order":{"field":"h","type":"quantitative"},"color":{"datum":"dPhi(resol.snow)","type":"nominal"}}},
          {"data":{"name":"conv"},"transform":[{"filter":"datum.p==10"}],"mark":{"type":"area","orient":"horizontal","color":"#56B4E9","opacity":0.5},"encoding":{"y":{"field":"h","type":"quantitative","axis":null},"x":{"field":"lo","type":"quantitative","axis":null},"x2":{"field":"hi"}}},
          {"data":{"name":"conv"},"transform":[{"filter":"datum.p==10"}],"mark":{"type":"line","strokeWidth":1.5},"encoding":{"y":{"field":"h","type":"quantitative","axis":null},"x":{"field":"m","type":"quantitative","axis":null},"order":{"field":"h","type":"quantitative"},"color":{"datum":"dPhi(conv. snow)","type":"nominal"}}}
        ]},
        {"width":427,"height":427,"title":{"text":["2021-10-12-KOMPASU-V06-drift","pseudo-EDA"]},"resolve":{"axis":{"x":"independent","y":"independent"}},"layer":[
          {"data":{"name":"total"},"transform":[{"filter":"datum.p==11"}],"mark":{"type":"area","orient":"horizontal","color":"#9400D3","opacity":0.5},"encoding":{"y":{"field":"h","type":"quantitative","scale":{"domain":[0,20],"nice":false},"axis":{"title":"tangent height [km]"}},"x":{"field":"lo","type":"quantitative","scale":{"domain":[-9,80],"nice":false,"zero":false},"axis":{"title":"dPhi [mm]"}},"x2":{"field":"hi"}}},
          {"data":{"name":"total"},"transform":[{"filter":"datum.p==11"}],"mark":{"type":"line","strokeWidth":1.5},"encoding":{"y":{"field":"h","type":"quantitative","axis":{"orient":"right","labels":false,"title":null}},"x":{"field":"m","type":"quantitative","axis":{"orient":"top","labels":false,"title":null}},"order":{"field":"h","type":"quantitative"},"color":{"datum":"dPhi (total)","type":"nominal","scale":{"domain":["dPhi (total)","dPhi(resol.snow)","dPhi(conv. snow)"],"range":["#9400D3","#009E73","#56B4E9"]},"legend":{"title":null,"orient":"none","legendX":350.75,"legendY":12.5,"direction":"vertical"}}}},
          {"data":{"name":"resol"},"transform":[{"filter":"datum.p==11"}],"mark":{"type":"area","orient":"horizontal","color":"#009E73","opacity":0.5},"encoding":{"y":{"field":"h","type":"quantitative","axis":null},"x":{"field":"lo","type":"quantitative","axis":null},"x2":{"field":"hi"}}},
          {"data":{"name":"resol"},"transform":[{"filter":"datum.p==11"}],"mark":{"type":"line","strokeWidth":1.5},"encoding":{"y":{"field":"h","type":"quantitative","axis":null},"x":{"field":"m","type":"quantitative","axis":null},"order":{"field":"h","type":"quantitative"},"color":{"datum":"dPhi(resol.snow)","type":"nominal"}}},
          {"data":{"name":"conv"},"transform":[{"filter":"datum.p==11"}],"mark":{"type":"area","orient":"horizontal","color":"#56B4E9","opacity":0.5},"encoding":{"y":{"field":"h","type":"quantitative","axis":null},"x":{"field":"lo","type":"quantitative","axis":null},"x2":{"field":"hi"}}},
          {"data":{"name":"conv"},"transform":[{"filter":"datum.p==11"}],"mark":{"type":"line","strokeWidth":1.5},"encoding":{"y":{"field":"h","type":"quantitative","axis":null},"x":{"field":"m","type":"quantitative","axis":null},"order":{"field":"h","type":"quantitative"},"color":{"datum":"dPhi(conv. snow)","type":"nominal"}}}
        ]}
      ]
    }
  ],
  "config": {
    "font": "DejaVu Sans",
    "view": {"stroke": "black", "strokeWidth": 2},
    "axis": {"domain": false, "grid": false, "tickSize": -9, "tickColor": "black", "tickWidth": 1.3, "labelFont": "DejaVu Sans", "labelFontSize": 22.5, "labelColor": "black", "titleFont": "DejaVu Sans", "titleFontSize": 22.5, "titleFontWeight": "normal", "titleColor": "black"},
    "axisX": {"tickCount": 9, "labelPadding": 22, "labelOffset": 4, "titlePadding": 18},
    "axisY": {"tickCount": 4, "labelPadding": 24, "titlePadding": 27},
    "title": {"font": "DejaVu Sans", "fontSize": 22.5, "fontWeight": "normal", "color": "black", "anchor": "middle", "frame": "group", "offset": 17, "lineHeight": 26},
    "legend": {"labelFont": "DejaVu Sans", "labelFontSize": 22.5, "labelColor": "black", "labelAlign": "right", "labelOffset": -62.25, "labelLimit": 400, "symbolType": "M-4,0H4", "symbolSize": 306.25, "symbolStrokeWidth": 1.5, "rowPadding": 3.5, "padding": 0}
  }
}
